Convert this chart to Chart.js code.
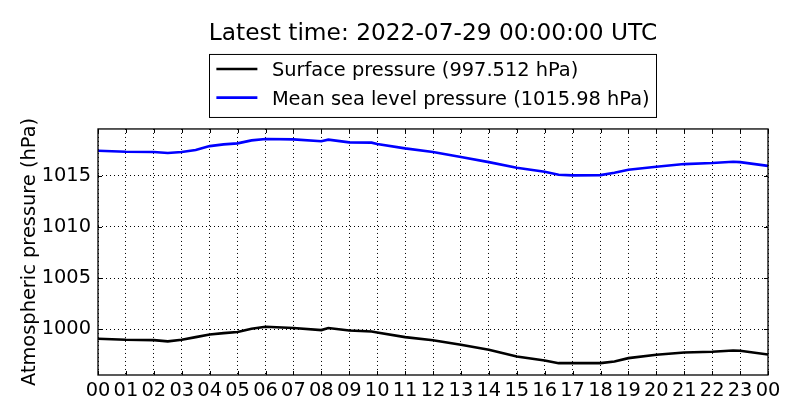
<!DOCTYPE html>
<html>
<head>
<meta charset="utf-8">
<title>Atmospheric pressure</title>
<script src="https://cdn.jsdelivr.net/npm/chart.js@4.4.1/dist/chart.umd.min.js"></script>
<style>
	body { margin: 0; background: #fff; }
	#wrap { width: 800px; height: 420px; }
</style>
</head>
<body>
<div id="wrap"><canvas id="mycanvas"></canvas></div>
<script>
// ** Pressure graph, last 24 hours

var hours = [0, 1, 2, 2.5, 3, 3.5, 4, 4.5, 5, 5.5, 6, 7, 8, 8.25, 9, 9.8, 10, 11, 12,
	13, 14, 15, 16, 16.5, 17, 18, 18.5, 19, 20, 21, 22, 22.75, 23, 24];

var surface = [999.05, 998.95, 998.92, 998.79, 998.95, 999.21, 999.47, 999.60, 999.71, 1000.03, 1000.23,
	1000.10, 999.90, 1000.10, 999.86, 999.76, 999.67, 999.21, 998.91,
	998.46, 997.97, 997.31, 996.92, 996.66, 996.66, 996.66, 996.82, 997.15, 997.48, 997.71, 997.77, 997.90, 997.87, 997.512];

var msl = [1017.47, 1017.37, 1017.34, 1017.24, 1017.34, 1017.53, 1017.92, 1018.09, 1018.19, 1018.48, 1018.61,
	1018.58, 1018.39, 1018.55, 1018.29, 1018.26, 1018.12, 1017.70, 1017.35,
	1016.85, 1016.35, 1015.80, 1015.41, 1015.12, 1015.05, 1015.08, 1015.31, 1015.61, 1015.90, 1016.16, 1016.26, 1016.39, 1016.35, 1015.98];

var hourLabels = ['00', '01', '02', '03', '04', '05', '06', '07', '08', '09', '10', '11',
	'12', '13', '14', '15', '16', '17', '18', '19', '20', '21', '22', '23', '00'];

var yTicks = [1000, 1005, 1010, 1015];

var labelSurface = 'Surface pressure (997.512 hPa)';
var labelMsl = 'Mean sea level pressure (1015.98 hPa)';
var titleText = 'Latest time: 2022-07-29 00:00:00 UTC';

var fontFamily = "'DejaVu Sans', 'Liberation Sans', sans-serif";

function points(ys) {
	var out = [];
	for (var i in hours) {
		out.push({x: hours[i], y: ys[i]});
	}
	return out;
}

// frame round the plot plus the small inward ticks
var framePlugin = {
	id: 'frame',
	afterDatasetsDraw: function(chart) {
		var ctx = chart.ctx;
		var a = chart.chartArea;
		var xs = chart.scales.x, ys = chart.scales.y;
		ctx.save();
		ctx.strokeStyle = '#000';
		ctx.lineWidth = 1;
		ctx.beginPath();
		for (var i = 0; i < hourLabels.length; i++) {
			var px = Math.round(xs.getPixelForValue(i)) + 0.5;
			ctx.moveTo(px, a.bottom); ctx.lineTo(px, a.bottom - 4);
			ctx.moveTo(px, a.top); ctx.lineTo(px, a.top + 4);
		}
		for (var j in yTicks) {
			var py = Math.round(ys.getPixelForValue(yTicks[j])) + 0.5;
			ctx.moveTo(a.left, py); ctx.lineTo(a.left + 4, py);
			ctx.moveTo(a.right, py); ctx.lineTo(a.right - 4, py);
		}
		ctx.stroke();
		ctx.lineWidth = 1.3;
		ctx.strokeRect(a.left, a.top, a.right - a.left, a.bottom - a.top);
		ctx.restore();
	}
};

// matplotlib style boxed legend, lines stacked and left aligned
var boxLegend = {
	id: 'boxLegend',
	afterDraw: function(chart) {
		var ctx = chart.ctx;
		var a = chart.chartArea;
		var sets = chart.data.datasets;
		ctx.save();
		ctx.font = '19.4px ' + fontFamily;
		var maxW = 0;
		for (var i in sets) {
			maxW = Math.max(maxW, ctx.measureText(sets[i].label).width);
		}
		var boxW = 7 + 41 + 14.5 + maxW + 7;
		var left = (a.left + a.right) / 2 - boxW / 2;
		var top = a.top - 75;
		ctx.fillStyle = '#fff';
		ctx.fillRect(left, top, boxW, 63);
		ctx.strokeStyle = '#000';
		ctx.lineWidth = 1;
		ctx.strokeRect(Math.round(left) + 0.5, top + 0.5, Math.round(boxW), 63);
		for (var k = 0; k < sets.length; k++) {
			var rowY = top + 15 + k * 28.7;
			ctx.strokeStyle = sets[k].borderColor;
			ctx.lineWidth = 2.6;
			ctx.beginPath();
			ctx.moveTo(left + 7, rowY);
			ctx.lineTo(left + 48, rowY);
			ctx.stroke();
			ctx.fillStyle = '#000';
			ctx.textBaseline = 'alphabetic';
			ctx.fillText(sets[k].label, left + 62.5, rowY + 7);
		}
		ctx.restore();
	}
};

var chartdata = {
	datasets: [{
		label: labelSurface,
		borderColor: '#000000',
		backgroundColor: '#000000',
		borderWidth: 2.6,
		pointRadius: 0,
		data: points(surface)
	}, {
		label: labelMsl,
		borderColor: '#0000ff',
		backgroundColor: '#0000ff',
		borderWidth: 2.6,
		pointRadius: 0,
		data: points(msl)
	}]
};

var ctx = document.getElementById('mycanvas');

var lineGraph = new Chart(ctx, {
	type: 'line',
	data: chartdata,
	plugins: [framePlugin, boxLegend],
	options: {
		responsive: true,
		maintainAspectRatio: false,
		animation: false,
		layout: {
			padding: {left: 0, right: 32, top: 0, bottom: 0}
		},
		scales: {
			x: {
				type: 'linear',
				min: 0,
				max: 24,
				afterFit: function(scale) { scale.height = 45; },
				ticks: {
					stepSize: 1,
					autoSkip: false,
					maxRotation: 0,
					padding: 4,
					color: '#000',
					font: {family: fontFamily, size: 19.4},
					callback: function(v) { return hourLabels[v]; }
				},
				grid: {color: '#000', lineWidth: 1, drawTicks: false},
				border: {display: false, dash: [1, 3]}
			},
			y: {
				min: 995.5,
				max: 1019.6,
				afterFit: function(scale) { scale.width = 98; },
				afterBuildTicks: function(scale) {
					scale.ticks = yTicks.map(function(v) { return {value: v}; });
				},
				ticks: {
					padding: 7,
					color: '#000',
					font: {family: fontFamily, size: 19.4},
					callback: function(v) { return String(v); }
				},
				grid: {color: '#000', lineWidth: 1, drawTicks: false},
				border: {display: false, dash: [1, 3]},
				title: {
					display: true,
					text: 'Atmospheric pressure (hPa)',
					color: '#000',
					font: {family: fontFamily, size: 19.4},
					padding: {top: 18, bottom: 0}
				}
			}
		},
		plugins: {
			legend: {display: false},
			tooltip: {enabled: false},
			title: {
				display: true,
				fullSize: false,
				text: titleText,
				color: '#000',
				font: {family: fontFamily, size: 23.3, weight: 'normal'},
				padding: {top: 20, bottom: 81}
			}
		}
	}
});
</script>
</body>
</html>
